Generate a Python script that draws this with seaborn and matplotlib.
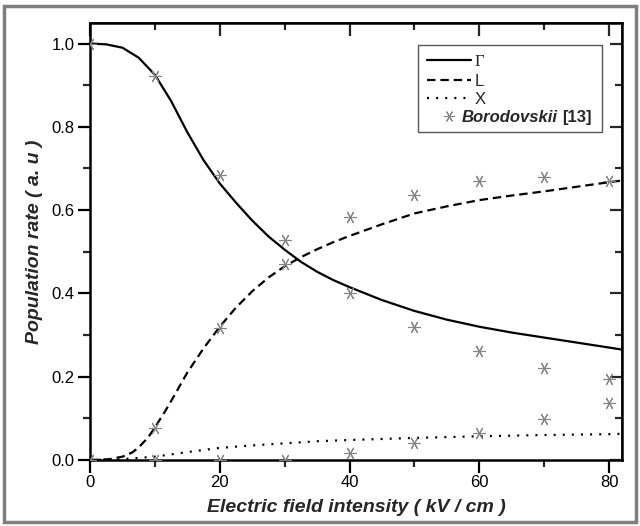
import numpy as np
import pandas as pd
import matplotlib
matplotlib.use("Agg")
import matplotlib.pyplot as plt
import seaborn as sns
from matplotlib.patches import Rectangle
from matplotlib.lines import Line2D
from matplotlib.ticker import MultipleLocator

# ---- data ----
gamma_x = [0, 2.5, 5, 7.5, 10, 12.5, 15, 17.5, 20, 22.5, 25, 27.5, 30, 32.5, 35, 37.5, 40, 45, 50, 55, 60, 65, 70, 75, 80, 82]
gamma_y = [1.0, 0.998, 0.99, 0.966, 0.925, 0.862, 0.787, 0.72, 0.664, 0.618, 0.575, 0.537, 0.505, 0.476, 0.452, 0.432, 0.415, 0.384, 0.358, 0.337, 0.320, 0.306, 0.294, 0.282, 0.270, 0.265]

l_x = [0, 3, 5, 6.5, 7.5, 9, 10, 11.5, 13, 15, 17.5, 20, 22.5, 25, 27.5, 30, 32.5, 35, 37.5, 40, 45, 50, 55, 60, 65, 70, 75, 80, 82]
l_y = [0.0, 0.002, 0.008, 0.018, 0.03, 0.055, 0.078, 0.115, 0.155, 0.21, 0.268, 0.32, 0.366, 0.405, 0.438, 0.465, 0.487, 0.506, 0.523, 0.538, 0.566, 0.592, 0.609, 0.624, 0.635, 0.645, 0.656, 0.667, 0.671]

x_x = [0, 5, 10, 15, 20, 25, 30, 35, 40, 50, 60, 70, 80, 82]
x_y = [0.0, 0.002, 0.008, 0.019, 0.029, 0.035, 0.040, 0.045, 0.048, 0.053, 0.057, 0.060, 0.062, 0.063]

exp_x = [0, 10, 20, 30, 40, 50, 60, 70, 80]
exp_gamma = [1.0, 0.922, 0.684, 0.528, 0.40, 0.32, 0.262, 0.222, 0.194]
exp_l = [0.0, 0.078, 0.318, 0.47, 0.584, 0.636, 0.670, 0.680, 0.670]
exp_xv = [0.0, 0.0, 0.0, 0.0, 0.018, 0.042, 0.066, 0.098, 0.136]

x_ticks = [0, 20, 40, 60, 80]
y_ticks = [0.0, 0.2, 0.4, 0.6, 0.8, 1.0]

sns.set_theme(style="ticks")
plt.rcParams['font.family'] = ['Liberation Sans', 'DejaVu Sans']

W, H = 640, 526
fig = plt.figure(figsize=(6.4, 5.26), dpi=100)
ax = fig.add_axes([90/W, 1-460/H, (622-90)/W, (460-22.7)/H])

lw = 1.6
dash = (0, (3.8, 2.2))
dot = (0, (0.9, 3.2))
sns.lineplot(x=gamma_x, y=gamma_y, ax=ax, color="black", lw=lw, legend=False)
sns.lineplot(x=l_x, y=l_y, ax=ax, color="black", lw=lw, legend=False, linestyle=dash)
sns.lineplot(x=x_x, y=x_y, ax=ax, color="black", lw=lw, legend=False, linestyle=dot)

exp_df = pd.DataFrame({
    "x": exp_x * 3,
    "y": exp_gamma + exp_l + exp_xv,
})
mk = (6, 2, 30)
gray = "#858585"
sns.scatterplot(data=exp_df, x="x", y="y", ax=ax, marker=mk, s=75, color=gray,
                linewidth=0.8, edgecolor=gray, legend=False, zorder=3)

ax.set_xlim(0, 82)
ax.set_ylim(0, 1.05)
ax.set_xticks(x_ticks)
ax.set_xticklabels([str(v) for v in x_ticks])
ax.set_yticks(y_ticks)
ax.set_yticklabels([f"{v:.1f}" for v in y_ticks])
ax.xaxis.set_minor_locator(MultipleLocator(10))
ax.yaxis.set_minor_locator(MultipleLocator(0.1))

for s in ax.spines.values():
    s.set_linewidth(1.8)
    s.set_color("black")
    s.set_visible(True)

MAJ, MIN = 9, 5
ax.tick_params(which="major", direction="out", length=MAJ, width=1.6, labelsize=12,
               colors="black", bottom=True, left=True, top=False, right=False, pad=2)
ax.tick_params(which="minor", direction="out", length=MIN, width=1.6, bottom=True, left=True,
               top=False, right=False)
ax2 = ax.secondary_xaxis('top')
ax2.set_xticks(x_ticks)
ax2.xaxis.set_minor_locator(MultipleLocator(10))
ax2.tick_params(which="major", direction="in", length=MAJ, width=1.6, labeltop=False)
ax2.tick_params(which="minor", direction="in", length=MIN, width=1.6)
ax2.set_xticklabels([])
ax3 = ax.secondary_yaxis('right')
ax3.set_yticks(y_ticks)
ax3.yaxis.set_minor_locator(MultipleLocator(0.1))
ax3.tick_params(which="major", direction="in", length=MAJ, width=1.6)
ax3.tick_params(which="minor", direction="in", length=MIN, width=1.6)
ax3.set_yticklabels([])

ax.set_xlabel("Electric field intensity ( kV / cm )", fontsize=14, fontweight="bold",
              fontstyle="italic", labelpad=6)
ax.set_ylabel("Population rate ( a. u )", fontsize=14, fontweight="bold",
              fontstyle="italic", labelpad=6)

handles = [
    Line2D([], [], color="black", lw=lw),
    Line2D([], [], color="black", lw=lw, linestyle=dash),
    Line2D([], [], color="black", lw=lw, linestyle=dot),
    Line2D([], [], color=gray, lw=0, marker=mk, markersize=8, markeredgewidth=0.8),
]
labels = ["\u0393", "L", "X", "Borodovskii"]
leg = ax.legend(handles, labels, loc="upper left", bbox_to_anchor=((418-90)/532, (460-45)/437.3),
                frameon=False, fontsize=12,
                handlelength=2.6, handletextpad=0.25, labelspacing=0.2, borderpad=0.55,
                borderaxespad=0)
texts = leg.get_texts()
texts[0].set_family(["Liberation Serif", "DejaVu Serif"])
texts[3].set_fontweight("bold")
texts[3].set_fontstyle("italic")

fig.canvas.draw()
bb = texts[3].get_window_extent()
texts[3].set_alpha(0)
inv = fig.transFigure.inverted()
xa, ya = inv.transform((bb.x0 - 13, bb.y0))
t1 = fig.text(xa, ya, "Borodovskii", fontsize=12, fontweight="bold", fontstyle="italic",
              va="bottom", ha="left")
fig.canvas.draw()
bb1 = t1.get_window_extent()
xb, yb = inv.transform((bb1.x1 + 4, bb1.y0))
fig.text(xb, yb, "[13]", fontsize=12, fontweight="bold", va="bottom", ha="left")

# legend frame
fig.add_artist(Rectangle((418/W, 1-132/H), (602-418)/W, (132-45)/H, transform=fig.transFigure,
                         fill=False, edgecolor="#555555", lw=1.0, zorder=5))

# outer figure frame
fig.add_artist(Rectangle((4/W, 4/H), 632/W, 516/H, transform=fig.transFigure,
                         fill=False, edgecolor="#7f7f7f", lw=2.5))

fig.savefig("out.png", dpi=100)
